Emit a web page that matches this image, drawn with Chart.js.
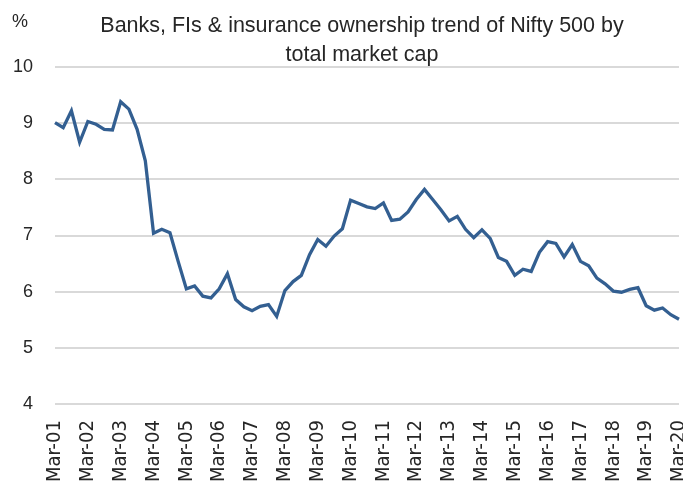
<!DOCTYPE html>
<html>
<head>
<meta charset="utf-8">
<script src="https://cdn.jsdelivr.net/npm/chart.js@4"></script>
<style>
  html, body { margin: 0; padding: 0; background: #fff; }
  #wrap { width: 683px; height: 488px; }
</style>
</head>
<body>
<div id="wrap"><canvas id="ownershipChart" width="683" height="488"></canvas></div>
<script>
const quarters = ['Mar', 'Jun', 'Sep', 'Dec'];
const firstYear = 1;
const lastYear = 20;

// Banks, FIs & insurance holding, % of total market cap (quarterly)
const ownership = [
    9.01, 8.92, 9.22, 8.66, 9.03, 8.98, 8.89, 8.88, 9.38, 9.25,
    8.89, 8.33, 7.04, 7.11, 7.05, 6.54, 6.05, 6.10, 5.92, 5.89,
    6.05, 6.32, 5.86, 5.73, 5.66, 5.74, 5.77, 5.56, 6.02, 6.18,
    6.29, 6.66, 6.93, 6.81, 6.99, 7.12, 7.63, 7.57, 7.51, 7.48,
    7.58, 7.27, 7.29, 7.42, 7.64, 7.82, 7.64, 7.46, 7.26, 7.34,
    7.11, 6.96, 7.10, 6.95, 6.61, 6.54, 6.29, 6.40, 6.36, 6.70,
    6.89, 6.86, 6.62, 6.84, 6.54, 6.46, 6.24, 6.14, 6.01, 5.99,
    6.04, 6.07, 5.75, 5.67, 5.71, 5.59, 5.51
];

const titleLines = ['Banks, FIs & insurance ownership trend of Nifty 500 by', 'total market cap'];
const unitText = '%';

const labels = [];
for (let y = firstYear; y <= lastYear; y++) {
    quarters.forEach(q => {
        if (y === lastYear && q !== 'Mar') return;
        labels.push(q + '-' + String(y).padStart(2, '0'));
    });
}

const textColor = '#262626';
const fontFamily = '"Liberation Sans", Arial, sans-serif';
const narrowFamily = '"Liberation Sans Narrow", "DejaVu Sans Condensed", "Liberation Sans", sans-serif';

// title (sits a little left of the plot centre, like the original) and the "%" unit
const headerText = {
    id: 'headerText',
    afterDraw(chart) {
        const ctx = chart.ctx;
        const area = chart.chartArea;
        ctx.save();
        ctx.fillStyle = textColor;
        ctx.textBaseline = 'alphabetic';

        ctx.font = '21.5px ' + fontFamily;
        ctx.textAlign = 'center';
        const cx = (area.left + area.right) / 2 - 5;
        titleLines.forEach((line, i) => ctx.fillText(line, cx, 32 + i * 29));

        ctx.font = '18px ' + fontFamily;
        ctx.textAlign = 'left';
        ctx.fillText(unitText, 12, 27);
        ctx.restore();
    }
};

const ctx = document.getElementById('ownershipChart').getContext('2d');
new Chart(ctx, {
    type: 'line',
    data: {
        labels: labels,
        datasets: [{
            data: ownership,
            borderColor: '#335f91',
            borderWidth: 3.3,
            pointRadius: 0,
            tension: 0,
            fill: false
        }]
    },
    options: {
        responsive: false,
        animation: false,
        layout: { padding: { top: 67, right: 4, bottom: 0, left: 0 } },
        plugins: {
            legend: { display: false },
            tooltip: { enabled: false },
            title: { display: false }
        },
        scales: {
            x: {
                offset: false,
                grid: { display: false },
                border: { display: false },
                ticks: {
                    autoSkip: false,
                    minRotation: 90,
                    maxRotation: 90,
                    padding: 8,
                    color: textColor,
                    font: { family: narrowFamily, size: 20 },
                    callback: function(value, index) {
                        return index % 4 === 0 ? this.getLabelForValue(value) : null;
                    }
                },
                afterFit: scale => {
                    scale.height = 84;
                    scale.paddingLeft = 0;
                    scale.paddingRight = 0;
                }
            },
            y: {
                min: 4,
                max: 10,
                grid: { color: '#d9d9d9', lineWidth: 2, drawTicks: false },
                border: { display: false },
                ticks: {
                    stepSize: 1,
                    padding: 22,
                    color: textColor,
                    font: { family: fontFamily, size: 18 }
                },
                afterFit: scale => { scale.width = 55; }
            }
        }
    },
    plugins: [headerText]
});
</script>
</body>
</html>
